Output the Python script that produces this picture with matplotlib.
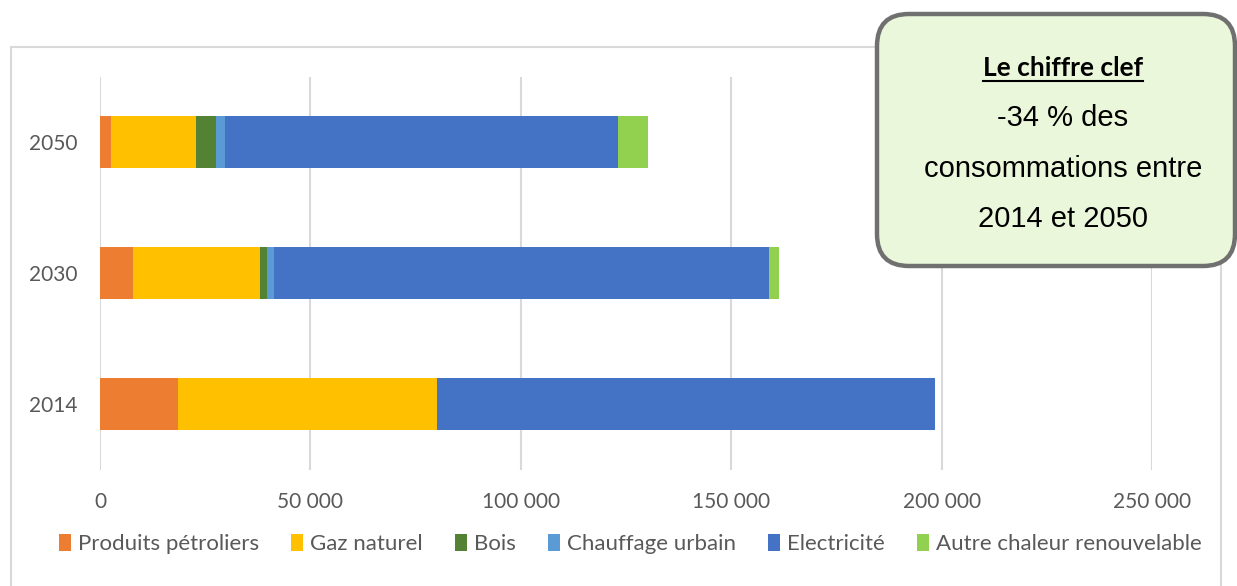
import matplotlib.pyplot as plt
from matplotlib.patches import FancyBboxPatch, Rectangle
from matplotlib.lines import Line2D
from matplotlib.ticker import FuncFormatter

# consommations par usage (MWh)
years = ['2014', '2030', '2050']
produits_petroliers = [18500, 7900, 2600]
gaz_naturel = [61500, 30200, 20200]
bois = [0, 1500, 4800]
chauffage_urbain = [0, 1700, 2100]
electricite = [118500, 117600, 93500]
autre_chaleur = [0, 2500, 7100]

series = [
    ('Produits pétroliers', produits_petroliers, '#ED7D31'),
    ('Gaz naturel', gaz_naturel, '#FFC000'),
    ('Bois', bois, '#548235'),
    ('Chauffage urbain', chauffage_urbain, '#5B9BD5'),
    ('Electricité', electricite, '#4472C4'),
    ('Autre chaleur renouvelable', autre_chaleur, '#92D050'),
]
x_ticks = [0, 50000, 100000, 150000, 200000, 250000]

GRID = '#D9D9D9'
TXT = '#595959'
FONT = 'Lato'

W, H = 1237, 586
fig = plt.figure(figsize=(W / 100, H / 100), dpi=100)

# outer chart frame
fig.patches.append(Rectangle((11 / W, -0.1), (1221 - 11) / W, 1 - 47 / H + 0.1,
                             transform=fig.transFigure, fill=False,
                             edgecolor=GRID, lw=1.5))

ax = fig.add_axes([100 / W, 1 - 469.5 / H, (1152 - 100) / W, (469.5 - 76.5) / H])

pos = range(len(years))
left = [0] * len(years)
for name, vals, col in series:
    ax.barh(pos, vals, left=left, height=0.4, color=col, label=name,
            edgecolor='none', zorder=3)
    left = [l + v for l, v in zip(left, vals)]

ax.set_xlim(0, 250000)
ax.set_ylim(-0.5, 2.5)
ax.set_xticks(x_ticks)
ax.xaxis.set_major_formatter(FuncFormatter(lambda v, p: f'{int(v):,}'.replace(',', ' ')))
ax.set_yticks(list(pos))
ax.set_yticklabels(years)
ax.grid(axis='x', color=GRID, lw=1.5, zorder=0)
ax.tick_params(length=0, colors=TXT, labelsize=15)
ax.tick_params(axis='x', pad=16)
ax.tick_params(axis='y', pad=16)
for lab in ax.get_xticklabels() + ax.get_yticklabels():
    lab.set_fontfamily(FONT)
for s in ax.spines.values():
    s.set_visible(False)

handles, labels = ax.get_legend_handles_labels()
leg = fig.legend(handles, labels, loc='center', bbox_to_anchor=(630 / W, 1 - 544 / H),
                 ncol=6, frameon=False, handlelength=0.55, handleheight=0.8,
                 handletextpad=0.3, columnspacing=1.45,
                 prop={'family': FONT, 'size': 16})
for t in leg.get_texts():
    t.set_color(TXT)

# key figure box
box = FancyBboxPatch((877, H - 266), 1235 - 877, 266 - 14,
                     boxstyle='round,pad=0,rounding_size=32',
                     transform=None, facecolor='#EBF7DA', edgecolor='#707070',
                     lw=3.2, zorder=5)
fig.patches.append(box)

cx = 1063 / W
title = fig.text(cx, 1 - 68 / H, 'Le chiffre clef', ha='center', va='center',
                 fontsize=19, fontweight='bold', family=FONT, zorder=6)
for yy, line in [(118, '-34 % des'), (169, 'consommations entre'), (219, '2014 et 2050')]:
    fig.text(cx, 1 - yy / H, line, ha='center', va='center', fontsize=21,
             family='Liberation Sans', zorder=6)

# underline the box title
fig.canvas.draw()
bb = title.get_window_extent().transformed(fig.transFigure.inverted())
fig.lines.append(Line2D([bb.x0, bb.x1], [bb.y0 - 0.002, bb.y0 - 0.002],
                        transform=fig.transFigure, color='black', lw=1.5, zorder=6))

fig.savefig('out.png', dpi=100)
